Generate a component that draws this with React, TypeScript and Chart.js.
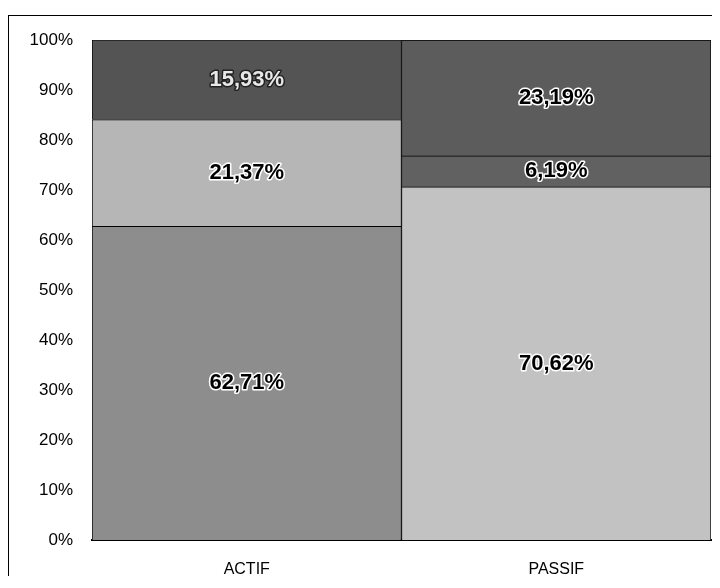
import React, { useEffect, useRef } from "react";
import { Chart, registerables } from "chart.js";

Chart.register(...registerables);

const categories = ["ACTIF", "PASSIF"];
const bottomValues = [62.71, 70.62];
const middleValues = [21.37, 6.19];
const topValues = [15.93, 23.19];
const bottomColors = ["#8d8d8d", "#c2c2c2"];
const middleColors = ["#b6b6b6", "#616161"];
const topColors = ["#545454", "#5c5c5c"];
const yTicks = [0, 10, 20, 30, 40, 50, 60, 70, 80, 90, 100];

const fmt = (v: number) => v.toFixed(2).replace(".", ",") + "%";

const labelPlugin = {
  id: "segLabels",
  afterDatasetsDraw(chart: any) {
    const ctx = chart.ctx;
    ctx.save();
    ctx.font = "bold 22px 'Liberation Sans', Arial, sans-serif";
    ctx.textAlign = "center";
    ctx.textBaseline = "middle";
    chart.data.datasets.forEach((ds: any, di: number) => {
      const meta = chart.getDatasetMeta(di);
      meta.data.forEach((bar: any, i: number) => {
        const v = ds.data[i];
        const y = (bar.y + bar.base) / 2;
        const light = di === 2 && i === 0;
        ctx.lineWidth = 3;
        ctx.lineJoin = "round";
        ctx.strokeStyle = light ? "#222" : "#fff";
        ctx.fillStyle = light ? "#e8e8e8" : "#000";
        ctx.strokeText(fmt(v), bar.x, y);
        ctx.fillText(fmt(v), bar.x, y);
      });
    });
    ctx.restore();
  },
};

export default function App() {
  const ref = useRef<HTMLCanvasElement>(null);
  useEffect(() => {
    if (!ref.current) return;
    const mk = (label: string, data: number[], colors: string[]) => ({
      label,
      data,
      backgroundColor: colors,
      borderColor: "#000",
      borderWidth: 1,
      barPercentage: 1,
      categoryPercentage: 1,
    });
    const chart = new Chart(ref.current, {
      type: "bar",
      data: {
        labels: categories,
        datasets: [
          mk("bas", bottomValues, bottomColors),
          mk("milieu", middleValues, middleColors),
          mk("haut", topValues, topColors),
        ],
      },
      options: {
        animation: false,
        responsive: false,
        maintainAspectRatio: false,
        layout: { padding: { top: 24, right: 1, left: 0, bottom: 0 } },
        plugins: { legend: { display: false }, tooltip: { enabled: false } },
        scales: {
          x: {
            stacked: true,
            grid: { display: false, drawTicks: false },
            border: { display: true, color: "#000", width: 2 },
            ticks: {
              color: "#000",
              padding: 20,
              font: { family: "'Liberation Sans', Arial, sans-serif", size: 16 },
            },
            afterFit: (s: any) => {
              s.height = 36;
              s.paddingLeft = 0;
              s.paddingRight = 0;
            },
          },
          y: {
            stacked: true,
            min: 0,
            max: 100,
            grid: { display: false, drawTicks: false },
            border: { display: false },
            afterBuildTicks: (s: any) => {
              s.ticks = yTicks.map((v) => ({ value: v }));
            },
            ticks: {
              color: "#000",
              padding: 19,
              font: { family: "'Liberation Sans', Arial, sans-serif", size: 17 },
              callback: (v: any) => v + "%",
            },
            afterFit: (s: any) => {
              s.width = 83;
              s.paddingTop = 0;
              s.paddingBottom = 0;
            },
          },
        },
      },
      plugins: [labelPlugin],
    });
    return () => chart.destroy();
  }, []);
  return (
    <div
      style={{
        marginTop: 7,
        width: 703,
        height: 560,
        borderLeft: "1px solid #000",
        borderTop: "1px solid #000",
        overflow: "hidden",
      }}
    >
      <canvas ref={ref} width={703} height={560} style={{ display: "block" }} />
    </div>
  );
}
